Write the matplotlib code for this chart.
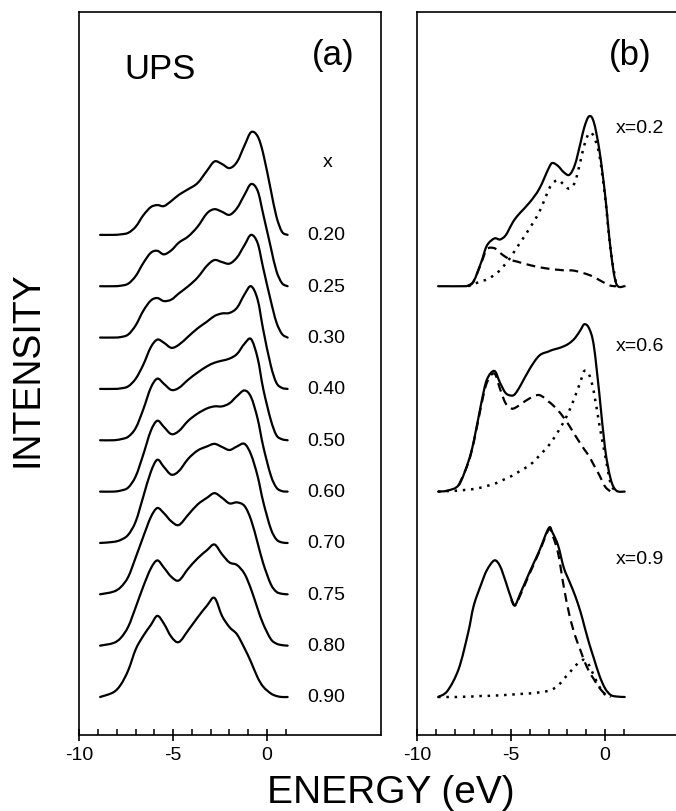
import numpy as np
import matplotlib
matplotlib.use('Agg')
import matplotlib.pyplot as plt
from matplotlib.path import Path
from matplotlib.patches import PathPatch
from matplotlib.ticker import FixedLocator

plt.rcParams['font.family'] = ['Liberation Sans', 'DejaVu Sans']

# ---- panel (a): UPS spectra ----
# energy in eV, intensity in units of the row spacing
energy_a = [-8.9, -8.2, -7.8, -7.4, -7.0, -6.6, -6.2, -5.85, -5.5, -5.1, -4.7, -4.2, -3.7,
            -3.2, -2.8, -2.4, -2.0, -1.6, -1.2, -0.85, -0.5, -0.2, 0.2, 0.5, 0.8, 1.1]
x_labels = ['0.20', '0.25', '0.30', '0.40', '0.50', '0.60', '0.70', '0.75', '0.80', '0.90']
ups_020 = [0, 0, 0.01, 0.04, 0.16, 0.38, 0.54, 0.58, 0.56, 0.66, 0.78, 0.89, 1.01,
           1.25, 1.43, 1.38, 1.30, 1.42, 1.74, 2.0, 1.92, 1.58, 0.88, 0.36, 0.06, 0]
ups_025 = [0, 0, 0.01, 0.05, 0.2, 0.45, 0.65, 0.69, 0.62, 0.70, 0.85, 0.97, 1.16,
           1.42, 1.50, 1.45, 1.39, 1.52, 1.78, 1.99, 1.86, 1.40, 0.76, 0.30, 0.06, 0]
ups_030 = [0, 0, 0.01, 0.06, 0.24, 0.52, 0.72, 0.77, 0.71, 0.74, 0.86, 1.0, 1.17,
           1.40, 1.51, 1.47, 1.44, 1.56, 1.80, 2.0, 1.84, 1.35, 0.72, 0.30, 0.07, 0]
ups_040 = [0, 0, 0.01, 0.05, 0.2, 0.47, 0.81, 0.96, 0.90, 0.80, 0.86, 1.02, 1.18,
           1.31, 1.42, 1.47, 1.48, 1.58, 1.84, 2.0, 1.74, 1.15, 0.46, 0.12, 0.02, 0]
ups_050 = [0, 0, 0.02, 0.07, 0.24, 0.6, 1.02, 1.2, 1.1, 0.98, 1.02, 1.18, 1.32,
           1.44, 1.51, 1.55, 1.59, 1.68, 1.88, 1.97, 1.6, 1.0, 0.4, 0.1, 0.02, 0]
ups_060 = [0, 0, 0.02, 0.08, 0.3, 0.72, 1.18, 1.38, 1.26, 1.12, 1.18, 1.38, 1.52,
           1.62, 1.66, 1.66, 1.72, 1.86, 1.97, 1.84, 1.42, 0.88, 0.32, 0.08, 0.01, 0]
ups_070 = [0, 0.02, 0.06, 0.16, 0.42, 0.9, 1.38, 1.62, 1.48, 1.33, 1.40, 1.64, 1.80,
           1.88, 1.93, 1.87, 1.81, 1.88, 1.93, 1.72, 1.3, 0.8, 0.28, 0.07, 0.01, 0]
ups_075 = [0, 0.05, 0.14, 0.34, 0.72, 1.12, 1.5, 1.68, 1.58, 1.42, 1.35, 1.55, 1.75,
           1.88, 1.97, 1.88, 1.77, 1.79, 1.72, 1.45, 1.0, 0.6, 0.2, 0.05, 0.01, 0]
ups_080 = [0, 0.05, 0.15, 0.37, 0.75, 1.15, 1.5, 1.66, 1.52, 1.34, 1.27, 1.5, 1.7,
           1.86, 1.97, 1.78, 1.62, 1.57, 1.4, 1.1, 0.72, 0.42, 0.13, 0.04, 0.01, 0]
ups_090 = [0, 0.09, 0.24, 0.52, 0.93, 1.19, 1.40, 1.58, 1.43, 1.17, 1.07, 1.30, 1.55,
           1.78, 1.93, 1.58, 1.36, 1.22, 0.95, 0.68, 0.38, 0.2, 0.07, 0.02, 0.0, 0]
ups_curves = [ups_020, ups_025, ups_030, ups_040, ups_050,
              ups_060, ups_070, ups_075, ups_080, ups_090]

# ---- panel (b): measured (solid) and two components (dashed, dotted) ----
nan = np.nan
energy_b = [-8.9, -8.4, -7.8, -7.3, -7.0, -6.6, -6.3, -5.9, -5.6, -5.3, -5.0, -4.8, -4.5,
            -4.0, -3.5, -3.0, -2.8, -2.5, -2.2, -1.9, -1.6, -1.3, -1.1, -0.85, -0.6,
            -0.3, 0.0, 0.3, 0.6, 1.05]
fit_labels = ['x=0.2', 'x=0.6', 'x=0.9']
solid_02 = [0, 0, 0, 0.01, 0.1, 0.47, 0.79, 0.93, 0.91, 0.99, 1.19, 1.31, 1.44, 1.64, 1.9,
            2.3, 2.40, 2.34, 2.22, 2.17, 2.37, 2.8, 3.1, 3.31, 3.2, 2.65, 1.8, 0.72, 0.05, 0]
dashed_02 = [nan, nan, nan, 0.01, 0.1, 0.45, 0.72, 0.74, 0.65, 0.57, 0.51, 0.49, 0.46, 0.41,
             0.37, 0.34, 0.33, 0.32, 0.31, 0.31, 0.30, 0.27, 0.25, 0.22, 0.18, 0.12, 0.06,
             0.01, 0.0, nan]
dotted_02 = [nan, nan, nan, 0.0, 0.04, 0.1, 0.13, 0.22, 0.31, 0.44, 0.58, 0.70, 0.86, 1.14,
             1.45, 1.88, 2.0, 2.07, 1.98, 1.9, 2.03, 2.45, 2.75, 2.98, 2.92, 2.55, 1.75,
             0.7, 0.04, nan]
solid_06 = [0, 0.02, 0.13, 0.57, 0.98, 1.72, 2.18, 2.35, 2.12, 1.92, 1.87, 1.9, 2.07, 2.40,
            2.65, 2.73, 2.76, 2.79, 2.83, 2.89, 2.99, 3.15, 3.26, 3.18, 2.85, 1.9, 0.85,
            0.25, 0.02, 0]
dashed_06 = [nan, nan, 0.12, 0.55, 0.96, 1.68, 2.12, 2.3, 2.0, 1.72, 1.62, 1.63, 1.7, 1.82,
             1.88, 1.75, 1.69, 1.58, 1.44, 1.28, 1.10, 0.93, 0.82, 0.69, 0.52, 0.32, 0.1,
             0.0, nan, nan]
dotted_06 = [0, 0.01, 0.02, 0.04, 0.05, 0.08, 0.11, 0.15, 0.2, 0.25, 0.3, 0.34, 0.41, 0.52,
             0.70, 0.9, 1.0, 1.17, 1.36, 1.58, 1.85, 2.15, 2.35, 2.28, 1.95, 1.3, 0.72,
             0.16, 0.0, nan]
solid_09 = [0.0, 0.12, 0.55, 1.25, 1.78, 2.2, 2.47, 2.66, 2.55, 2.25, 1.92, 1.79, 2.03, 2.45,
            2.85, 3.29, 3.2, 2.95, 2.52, 2.25, 1.98, 1.65, 1.38, 1.05, 0.76, 0.42, 0.17,
            0.04, 0.01, 0.0]
dashed_09 = [nan, nan, nan, nan, nan, nan, nan, nan, nan, nan, 1.9, 1.78, 2.0, 2.42, 2.83,
             3.26, 3.15, 2.8, 2.15, 1.6, 1.2, 0.9, 0.7, 0.5, 0.35, 0.18, 0.06, 0.0, nan, nan]
dotted_09 = [0, 0.0, 0.0, 0.01, 0.01, 0.02, 0.02, 0.03, 0.03, 0.04, 0.05, 0.05, 0.06, 0.07,
             0.09, 0.12, 0.15, 0.22, 0.35, 0.47, 0.6, 0.7, 0.72, 0.62, 0.42, 0.2, 0.05,
             0.0, nan, nan]
fit_solid = [solid_02, solid_06, solid_09]
fit_dashed = [dashed_02, dashed_06, dashed_09]
fit_dotted = [dotted_02, dotted_06, dotted_09]
fit_offsets = [8, 4, 0]


def smooth_line(ax, xs, ys, **kw):
    '''Draw the points as one smooth (Catmull-Rom) curve, skipping nan gaps'''
    xs = np.asarray(xs, float)
    ys = np.asarray(ys, float)
    idx = np.flatnonzero(np.isfinite(ys))
    if len(idx) == 0:
        return
    runs = np.split(idx, np.flatnonzero(np.diff(idx) > 1) + 1)
    for r in runs:
        if len(r) < 2:
            continue
        pts = np.column_stack([xs[r], ys[r]])
        verts = [pts[0]]
        codes = [Path.MOVETO]
        m = len(pts)
        for i in range(m - 1):
            p0 = pts[max(i - 1, 0)]
            p1 = pts[i]
            p2 = pts[i + 1]
            p3 = pts[min(i + 2, m - 1)]
            verts += [p1 + (p2 - p0) / 6, p2 - (p3 - p1) / 6, p2]
            codes += [Path.CURVE4] * 3
        ax.add_patch(PathPatch(Path(verts, codes), fill=False, edgecolor='black',
                               joinstyle='round', **kw))


fig = plt.figure(figsize=(6.76, 8.12), dpi=100)
ax_a = fig.add_axes([0.1176, 0.0936, 0.446, 0.891])
ax_b = fig.add_axes([0.6176, 0.0936, 0.446, 0.891])

lw = 1.6
n = len(ups_curves)
for i, (lab, y) in enumerate(zip(x_labels, ups_curves)):
    off = n - 1 - i
    smooth_line(ax_a, energy_a, np.array(y) + off, lw=lw, capstyle='round')
    ax_a.text(2.15, off, lab, fontsize=14, ha='left', va='center')
ax_a.text(3.25, 10.42, 'x', fontsize=14, ha='center', va='center')
ax_a.text(0.267, 0.921, 'UPS', transform=ax_a.transAxes, fontsize=25,
          ha='center', va='center')
ax_a.text(0.84, 0.94, '(a)', transform=ax_a.transAxes, fontsize=25,
          ha='center', va='center')

for lab, s, d, t, off in zip(fit_labels, fit_solid, fit_dashed, fit_dotted, fit_offsets):
    smooth_line(ax_b, energy_b, np.array(s) + off, lw=lw, capstyle='round')
    smooth_line(ax_b, energy_b, np.array(d) + off, lw=lw, linestyle=(0, (4, 2.5)))
    smooth_line(ax_b, energy_b, np.array(t) + off, lw=1.8, linestyle=(0, (1, 2.3)))
ax_b.text(0.55, 11.1, 'x=0.2', fontsize=14, ha='left', va='center')
ax_b.text(0.55, 6.84, 'x=0.6', fontsize=14, ha='left', va='center')
ax_b.text(0.55, 2.69, 'x=0.9', fontsize=14, ha='left', va='center')
ax_b.text(0.705, 0.94, '(b)', transform=ax_b.transAxes, fontsize=25,
          ha='center', va='center')

for ax in (ax_a, ax_b):
    ax.set_xlim(-10, 6.08)
    ax.set_ylim(-0.74, 13.35)
    ax.set_yticks([])
    ax.xaxis.set_major_locator(FixedLocator([-10, -5, 0]))
    ax.xaxis.set_minor_locator(FixedLocator([-9, -8, -7, -6, -4, -3, -2, -1, 1]))
    ax.set_xticklabels(['-10', '-5', '0'])
    ax.tick_params(axis='x', which='major', direction='inout', length=8, width=1.2,
                   labelsize=14, pad=4)
    ax.tick_params(axis='x', which='minor', direction='in', length=4.5, width=1.1)
    for sp in ax.spines.values():
        sp.set_linewidth(1.2)

fig.text(0.041, 0.5456, 'INTENSITY', rotation=90, fontsize=27, ha='center', va='center')
fig.text(0.578, 0.011, 'ENERGY (eV)', fontsize=28, ha='center', va='baseline')

fig.savefig('out.png', dpi=100)
